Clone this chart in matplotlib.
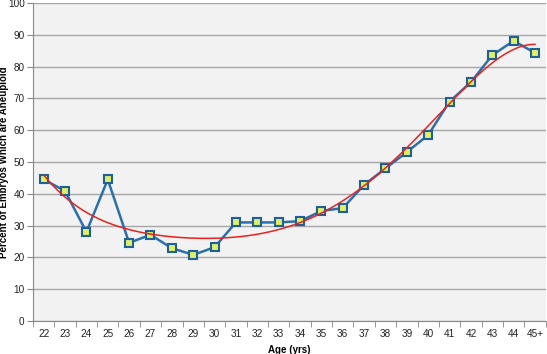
import numpy as np
import matplotlib.pyplot as plt

plt.rcParams['font.family'] = ['Liberation Sans', 'DejaVu Sans']

ages = ['22', '23', '24', '25', '26', '27', '28', '29', '30', '31', '32', '33',
        '34', '35', '36', '37', '38', '39', '40', '41', '42', '43', '44', '45+']
aneuploid = [44.5, 40.9, 28.0, 44.5, 24.6, 27.1, 22.9, 20.8, 23.2, 31.0, 31.0, 31.0,
             31.4, 34.6, 35.5, 42.8, 48.0, 53.1, 58.5, 69.0, 75.1, 83.6, 88.1, 84.3]

x = np.arange(len(ages))

# polynomial trendline like excel
coef = np.polyfit(x, aneuploid, 5)
xs = np.linspace(0, len(ages) - 1, 200)
trend = np.polyval(coef, xs)

fig = plt.figure(figsize=(5.47, 3.54), dpi=100)
ax = fig.add_axes([0.0603, 0.0932, 0.9373, 0.8983])
ax.set_facecolor('#f2f2f2')

ax.plot(x, aneuploid, color='#2a6fb0', lw=1.8, marker='s', markersize=5.5,
        markerfacecolor='#dff060', markeredgecolor='#1f5f9a', markeredgewidth=1.5, zorder=3)
ax.plot(xs, trend, color='#e8221c', lw=1.1, zorder=4)

ax.set_xlim(-0.5, len(ages) - 0.5)
ax.set_ylim(0, 100)
ax.set_yticks(range(0, 101, 10))
ax.set_xticks(x)
ax.set_xticklabels(ages)
ax.set_xticks(np.arange(-0.5, len(ages), 1), minor=True)
ax.tick_params(axis='x', which='major', length=0, labelsize=7.2, pad=6, labelcolor='#222222')
ax.tick_params(axis='x', which='minor', length=4, color='#888888')
ax.tick_params(axis='y', length=4, color='#888888', labelsize=7.2, pad=2, labelcolor='#222222')
ax.grid(axis='y', color='#a6a6a6', lw=1)
ax.set_axisbelow(True)

for s in ['top', 'right']:
    ax.spines[s].set_visible(False)
ax.spines['left'].set_color('#888888')
ax.spines['bottom'].set_color('#888888')

ax.set_xlabel('Age (yrs)', fontsize=7, fontweight='bold')
ax.xaxis.set_label_coords(0.5, -0.075)
ax.set_ylabel('Percent of Embryos Which are Aneuploid', fontsize=7, fontweight='bold')
ax.yaxis.set_label_coords(-0.047, 0.5)

plt.savefig('out.png', dpi=100)
